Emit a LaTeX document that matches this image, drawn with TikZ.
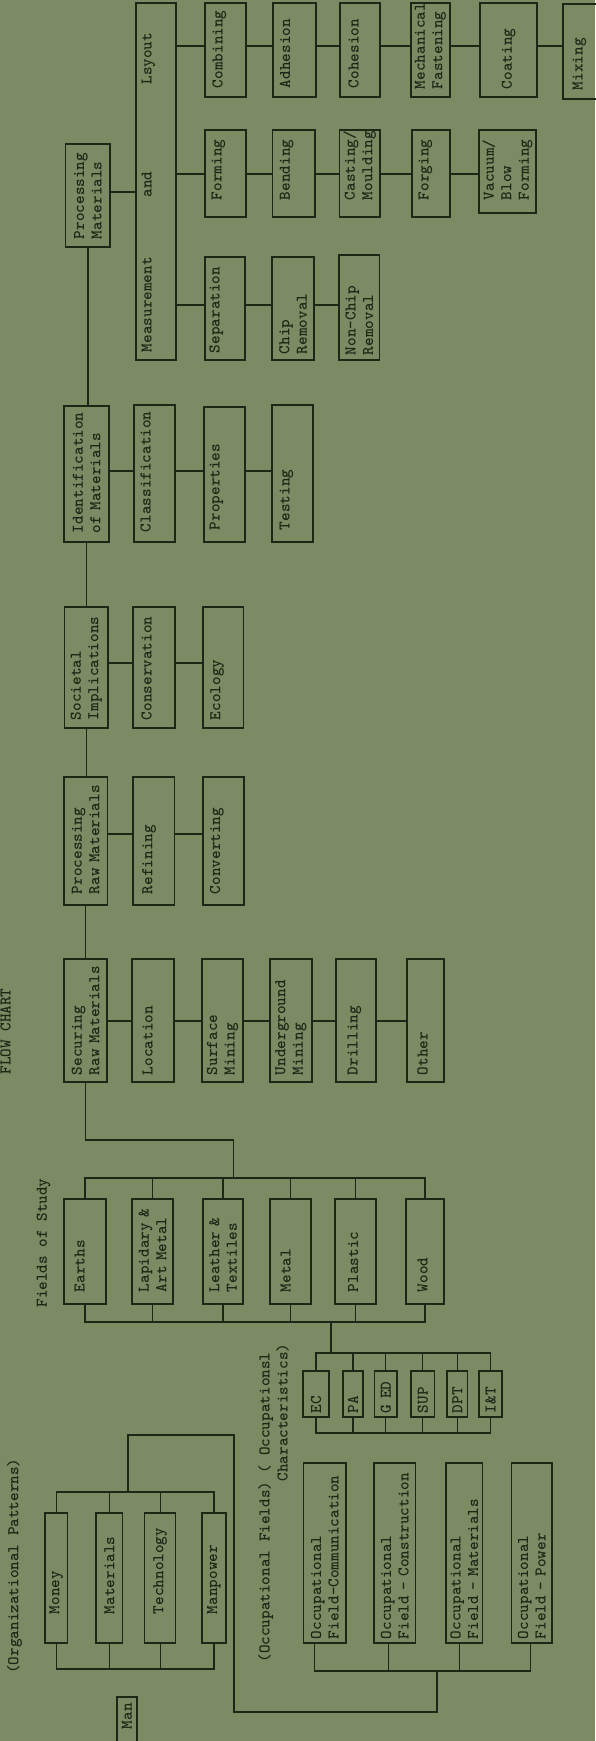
\documentclass[tikz,border=0pt]{standalone}
\usetikzlibrary{calc}
\definecolor{bg}{RGB}{124,139,99}
\definecolor{ink}{RGB}{30,38,22}
\newcommand\typew{\fontsize{16.4}{17.5}\selectfont\ttfamily\bfseries\hyphenpenalty=10000\exhyphenpenalty=10000\relax}
\tikzset{
  bxs/.style={draw=ink, line width=1.3pt, rotate=90, align=left, inner ysep=0pt, text=ink, font=\typew},
  tlift/.style={text height=9pt, text depth=#1},
  lbl/.style={rotate=90, inner sep=0pt, text=ink, font=\typew},
  wire/.style={draw=ink, line width=1.3pt},
}
% [options] name, x1, y1, x2, y2, padding at the start of the text, text
\newcommand\mkbox[8][]{%
  \pgfmathsetmacro\bxl{#6-#4}%
  \pgfmathsetmacro\bxs{#5-#3}%
  \pgfmathsetmacro\bxt{#6-#4-2*#7}%
  \pgfmathsetmacro\bxcx{(#3+#5)/2}%
  \pgfmathsetmacro\bxcy{(#4+#6)/2}%
  \node[bxs, minimum width=\bxl pt, minimum height=\bxs pt, text width=\bxt pt, inner xsep=#7pt, #1] (#2) at (\bxcx,\bxcy) {#8};%
}
\begin{document}
\begin{tikzpicture}[x=1pt, y=-1pt]
\fill[bg] (0,0) rectangle (595,1741);
\useasboundingbox (0,0) rectangle (595,1741);

% ---- headings
\node[lbl] (title) at (5.5,1031.5) {FLOW CHART};
\node[lbl] (fos) at (43.6,1243) {Fields of Study};
\node[lbl] (orgp) at (14.5,1566) {(Organizational Patterns)};
\node[lbl] (occA) at (265.7,1507.5) {(Occupational Fields) ( Occupationsl};
\node[lbl] (occB) at (282.7,1412.5) {Characteristics)};

% ---- processing materials
\mkbox{pm}{65.7}{144}{110}{247}{8}{Processing\\Materials}
\mkbox[tlift=18pt]{meas}{136}{3}{176}{360}{8}{Measurement\hspace*{60pt}and\hspace*{87pt}Lsyout}

\mkbox[tlift=15pt]{comb}{205}{3}{246}{97}{9}{Combining}
\mkbox[tlift=18pt]{adh}{273}{3}{316}{97}{9}{Adhesion}
\mkbox[tlift=12pt]{coh}{340}{3}{380}{97}{9}{Cohesion}
\mkbox{mech}{411}{3}{450}{97}{8}{Mechanical\\Fastening}
\mkbox{coat}{480}{3}{537}{97}{8}{Coating}
\mkbox[tlift=12pt]{mix}{563}{4}{605}{99}{9}{Mixing}

\mkbox[tlift=17pt]{form}{205}{130}{246}{217}{17}{Forming}
\mkbox[tlift=17pt]{bend}{272.5}{130}{315}{217}{17}{Bending}
\mkbox{cast}{339.7}{130}{380}{217}{17}{Casting/\\Moulding}
\mkbox[tlift=14pt]{forg}{412}{130}{450}{217}{17}{Forging}
\mkbox{vac}{479}{130}{536}{213}{13}{Vacuum/\\Blow\\Forming}

\mkbox[tlift=20pt]{sep}{205}{257}{245}{360}{7}{Separation}
\mkbox{chip}{272}{257}{314}{360}{6}{Chip\\Removal}
\mkbox{nchip}{339}{255}{379.5}{360}{5}{Non-Chip\\Removal}

% ---- identification
\mkbox{idm}{64}{406}{109}{542}{9}{Identification\\of~Materials}
\mkbox[tlift=17pt]{cls}{134}{405}{175}{542}{10}{Classification}
\mkbox[tlift=19pt]{prop}{204}{407}{245}{542}{12}{Properties}
\mkbox[tlift=15pt]{test}{272}{405}{313}{542}{12}{Testing}

% ---- societal implications
\mkbox{soc}{64.5}{607}{108}{728}{8}{Societal\\Implications}
\mkbox[tlift=14pt]{cons}{133}{607}{175}{728}{8}{Conservation}
\mkbox[tlift=15pt]{eco}{203}{607}{243.6}{728}{8}{Ecology}

% ---- processing raw materials
\mkbox{prm}{64}{777}{107.4}{905}{11}{Processing\\Raw~Materials}
\mkbox[tlift=12pt]{refin}{133}{777}{174.6}{905}{11}{Refining}
\mkbox[tlift=16pt]{conv}{203}{777}{244}{905}{11}{Converting}

% ---- securing raw materials
\mkbox{sec}{64}{959}{107}{1082}{7}{Securing\\Raw~Materials}
\mkbox[tlift=10pt]{loc}{132}{959}{174}{1082}{7}{Location}
\mkbox{surf}{202}{959}{243}{1082}{7}{Surface\\Mining}
\mkbox{ug}{270}{959}{312}{1082}{7}{Underground\\Mining}
\mkbox[tlift=6pt]{drill}{336}{959}{376}{1082}{7}{Drilling}
\mkbox[tlift=5pt]{oth}{407}{959}{444}{1082}{7}{Other}

% ---- fields of study
\mkbox[tlift=10pt]{earth}{64}{1199}{106}{1304}{12}{Earths}
\mkbox{lap}{132}{1199}{173}{1304}{12}{Lapidary~\&\\Art~Metal}
\mkbox{leath}{203}{1199}{243}{1304}{12}{Leather~\&\\Textiles}
\mkbox[tlift=9pt]{metal}{270}{1199}{311}{1304}{12}{Metal}
\mkbox[tlift=4pt]{plast}{335}{1199}{376}{1304}{12}{Plastic}
\mkbox[tlift=4pt]{wood}{406}{1199}{444}{1304}{12}{Wood}

% ---- occupational characteristics
\mkbox{ec}{303}{1371}{329}{1417}{4}{EC}
\mkbox{pa}{343}{1371}{363}{1417}{4}{PA}
\mkbox{ged}{374.6}{1371}{397}{1417}{4}{G~ED}
\mkbox{sup}{411}{1371}{434.5}{1417}{4}{SUP}
\mkbox{dpt}{447}{1371}{467.5}{1417}{4}{DPT}
\mkbox{it}{479}{1371}{502}{1417}{4}{I\&T}

% ---- organizational patterns
\mkbox{money}{45}{1513}{67.5}{1643}{29}{Money}
\mkbox{mats}{96}{1513}{122.6}{1643}{29}{Materials}
\mkbox{tech}{144.6}{1513}{175.7}{1643}{29}{Technology}
\mkbox{manp}{202}{1513}{226}{1643}{29}{Manpower}
\mkbox{man}{117}{1697}{137}{1760}{4}{\hspace*{27pt}Man}

% ---- occupational fields
\mkbox{ofc}{303.6}{1463}{346}{1643}{4}{Occupational\\Field-Communication}
\mkbox{ofk}{374}{1463}{415.6}{1643}{4}{Occupational\\Field~-~Construction}
\mkbox{ofm}{446}{1463}{482.7}{1643}{4}{Occupational\\Field~-~Materials}
\mkbox{ofp}{511.6}{1463}{552}{1643}{4}{Occupational\\Field~-~Power}

% ---- row levels of the horizontal links
\coordinate (rC) at (0,46);
\coordinate (rF) at (0,174);
\coordinate (rP) at (0,192);
\coordinate (rS) at (0,305);
\coordinate (rI) at (0,471);
\coordinate (rO) at (0,663);
\coordinate (rR) at (0,834);
\coordinate (rW) at (0,1021);

\draw[wire] (pm.south |- rP) -- (meas.north |- rP);
\foreach \a/\b in {meas/comb,comb/adh,adh/coh,coh/mech,mech/coat,coat/mix}
  \draw[wire] (\a.south |- rC) -- (\b.north |- rC);
\foreach \a/\b in {meas/form,form/bend,bend/cast,cast/forg,forg/vac}
  \draw[wire] (\a.south |- rF) -- (\b.north |- rF);
\foreach \a/\b in {meas/sep,sep/chip,chip/nchip}
  \draw[wire] (\a.south |- rS) -- (\b.north |- rS);
\foreach \a/\b in {idm/cls,cls/prop,prop/test}
  \draw[wire] (\a.south |- rI) -- (\b.north |- rI);
\foreach \a/\b in {soc/cons,cons/eco}
  \draw[wire] (\a.south |- rO) -- (\b.north |- rO);
\foreach \a/\b in {prm/refin,refin/conv}
  \draw[wire] (\a.south |- rR) -- (\b.north |- rR);
\foreach \a/\b in {sec/loc,loc/surf,surf/ug,ug/drill,drill/oth}
  \draw[wire] (\a.south |- rW) -- (\b.north |- rW);

% ---- main spine
\draw[wire] (pm.west) -- (pm.west |- idm.east);
\draw[wire] (idm.west) -- (idm.west |- soc.east);
\draw[wire] (soc.west) -- (soc.west |- prm.east);
\draw[wire] (prm.west) -- (prm.west |- sec.east);

% ---- fields of study buses
\coordinate (fj) at (233.8,1140);
\coordinate (fbt) at (233.8,1178);
\draw[wire] (sec.west) |- (fj) -- (fbt);
\draw[wire] (earth.east) |- (fbt) -| (wood.east);
\foreach \n in {lap,leath,metal,plast}
  \draw[wire] (\n.east) -- (\n.east |- fbt);
\coordinate (fbb) at (331,1322);
\draw[wire] (earth.west) |- (fbb) -| (wood.west);
\foreach \n in {lap,leath,metal,plast}
  \draw[wire] (\n.west) -- (\n.west |- fbb);

% ---- occupational characteristics buses
\coordinate (ctb) at (331,1353);
\draw[wire] (fbb) -- (ctb);
\draw[wire] (ec.east) |- (ctb) -| (it.east);
\foreach \n in {pa,ged,sup,dpt}
  \draw[wire] (\n.east) -- (\n.east |- ctb);
\coordinate (cbb) at (400,1433);
\draw[wire] (ec.west) |- (cbb) -| (it.west);
\foreach \n in {pa,ged,sup,dpt}
  \draw[wire] (\n.west) -- (\n.west |- cbb);

% ---- organizational patterns buses
\coordinate (otb) at (128,1492);
\draw[wire] (money.east) |- (otb) -| (manp.east);
\foreach \n in {mats,tech}
  \draw[wire] (\n.east) -- (\n.east |- otb);
\coordinate (obb) at (135,1669);
\draw[wire] (money.west) |- (obb) -| (manp.west);
\foreach \n in {mats,tech}
  \draw[wire] (\n.west) -- (\n.west |- obb);

% ---- link to the occupational fields
\coordinate (lk1) at (234,1435);
\coordinate (lk2) at (437,1712);
\coordinate (ofb) at (437,1671);
\draw[wire] (otb) |- (lk1) |- (lk2) -- (ofb);
\draw[wire] ([xshift=-10pt]ofc.west) |- (ofb);
\draw[wire] ([xshift=-1pt]ofp.west) |- (ofb);
\draw[wire] ([xshift=-6pt]ofk.west) -- ++(0,28);
\draw[wire] ([xshift=-5pt]ofm.west) -- ++(0,28);
\end{tikzpicture}
\end{document}
